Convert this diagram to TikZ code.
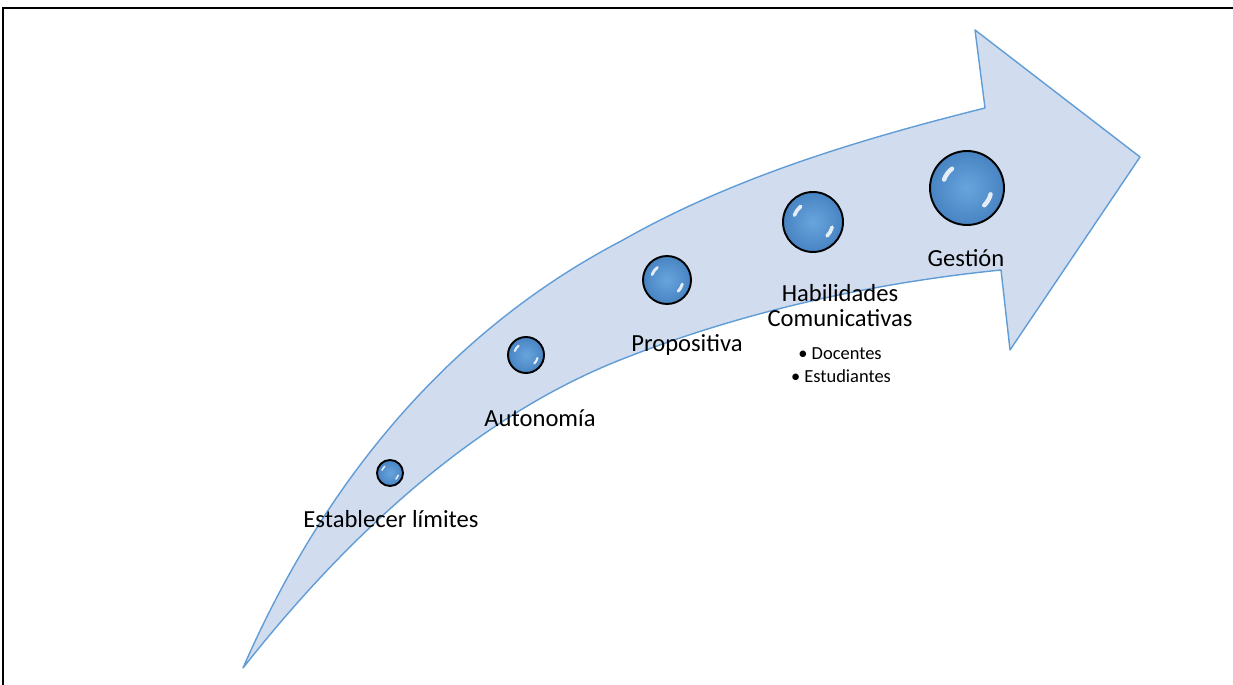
\documentclass[tikz,border=0pt]{standalone}
\usepackage{fontspec}
\setmainfont{Carlito}
\usetikzlibrary{positioning, calc}

\definecolor{arrowFill}{RGB}{209,221,239}
\definecolor{arrowLine}{RGB}{96,156,214}
\definecolor{bubbleIn}{RGB}{104,164,220}
\definecolor{bubbleOut}{RGB}{72,132,194}

\begin{document}
\begin{tikzpicture}[x=0.02cm, y=-0.02cm,
    bubble/.style={circle, draw=black, line width=1.1pt, inner sep=0pt,
      minimum size=#1cm, inner color=bubbleIn, outer color=bubbleOut,
      path picture={
        \draw[white, opacity=0.85, line width=0.06*#1cm, line cap=round]
          ($(path picture bounding box.center)+(160:0.33*#1cm)$)
            arc[start angle=160, end angle=128, radius=0.33*#1cm]
          ($(path picture bounding box.center)+(-15:0.33*#1cm)$)
            arc[start angle=-15, end angle=-45, radius=0.33*#1cm];
      }}]
  \tikzstyle{stagetext}=[font=\fontsize{14}{15}\selectfont, anchor=base, inner sep=0pt]
  \tikzstyle{itemtext}=[font=\fontsize{10.5}{12}\selectfont, anchor=base, inner sep=0pt]

  \useasboundingbox (0,0) rectangle (1233,685);

  % frame
  \coordinate (tl) at (3,8);
  \coordinate (tr) at (1233,8);
  \coordinate (bl) at (3,685);
  \draw[line width=1.2pt] (tr) -- (tl) -- (bl);

  % curved arrow
  \coordinate (tail) at (243,668);
  \coordinate (mid1) at (623,240);
  \coordinate (neck1) at (985,108);
  \coordinate (barb1) at (975,30);
  \coordinate (tip) at (1140,157);
  \coordinate (barb2) at (1010,350);
  \coordinate (neck2) at (1001,270);
  \coordinate (mid2) at (620,360);
  \draw[arrowLine, fill=arrowFill, line width=0.8pt, line join=round]
    (tail) .. controls (325,480) and (450,330) .. (mid1)
    .. controls (734,177) and (861,139) .. (neck1)
    -- (barb1) -- (tip) -- (barb2) -- (neck2)
    .. controls (872,283) and (741,312) .. (mid2)
    .. controls (471,419) and (342,542) .. (tail)
    -- cycle;

  % bubbles
  \node[bubble=0.52] (b1) at (390,473) {};
  \node[bubble=0.72] (b2) at (526,355) {};
  \node[bubble=0.96] (b3) at (667,280) {};
  \node[bubble=1.2]  (b4) at (813,222) {};
  \node[bubble=1.48] (b5) at (967,188) {};

  % stage names
  \node[stagetext] (limites)  at (391,527) {Establecer límites};
  \node[stagetext] (autonomia) at (540,426) {Autonomía};
  \node[stagetext] (propositiva) at (687,352) {Propositiva};
  \node[stagetext] (habil)  at (840,302) {Habilidades};
  \node[stagetext] (comun)  at (840,327) {Comunicativas};
  \node[stagetext] (gestion) at (966,267) {Gestión};
  \node[itemtext] (docentes) at (840,360) {• Docentes};
  \node[itemtext] (estudiantes) at (841,383) {• Estudiantes};
\end{tikzpicture}
\end{document}
